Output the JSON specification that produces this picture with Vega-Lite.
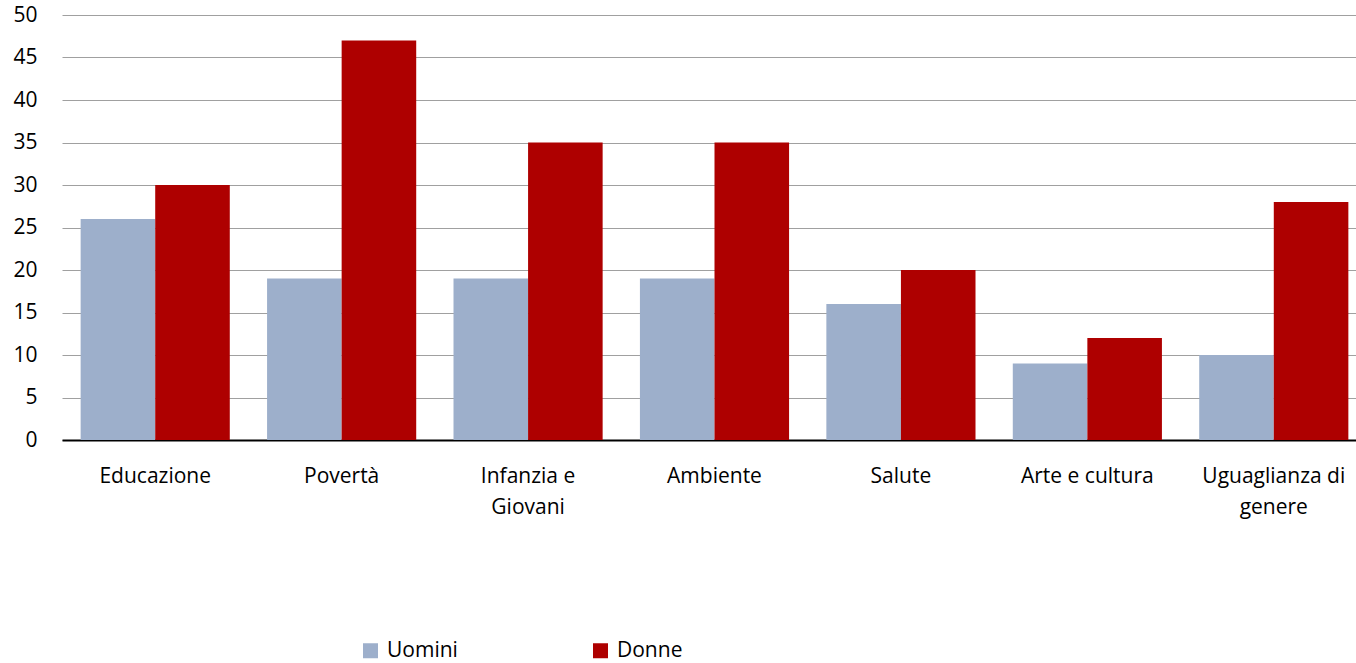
{
  "$schema": "https://vega.github.io/schema/vega-lite/v6.json",
  "width": 1305,
  "height": 425,
  "autosize": "none",
  "padding": {"left": 62, "top": 15, "right": 0, "bottom": 223},
  "background": "white",
  "config": {
    "font": "Open Sans",
    "view": {"stroke": null},
    "axis": {"labelFont": "Open Sans", "labelFontSize": 21, "labelColor": "#000000"}
  },
  "data": {
    "values": [
      {"cat": "Educazione", "sesso": "Uomini", "v": 26},
      {"cat": "Educazione", "sesso": "Donne", "v": 30},
      {"cat": "Povertà", "sesso": "Uomini", "v": 19},
      {"cat": "Povertà", "sesso": "Donne", "v": 47},
      {"cat": "Infanzia e Giovani", "sesso": "Uomini", "v": 19},
      {"cat": "Infanzia e Giovani", "sesso": "Donne", "v": 35},
      {"cat": "Ambiente", "sesso": "Uomini", "v": 19},
      {"cat": "Ambiente", "sesso": "Donne", "v": 35},
      {"cat": "Salute", "sesso": "Uomini", "v": 16},
      {"cat": "Salute", "sesso": "Donne", "v": 20},
      {"cat": "Arte e cultura", "sesso": "Uomini", "v": 9},
      {"cat": "Arte e cultura", "sesso": "Donne", "v": 12},
      {"cat": "Uguaglianza di genere", "sesso": "Uomini", "v": 10},
      {"cat": "Uguaglianza di genere", "sesso": "Donne", "v": 28}
    ]
  },
  "mark": {"type": "bar"},
  "encoding": {
    "x": {
      "field": "cat",
      "type": "nominal",
      "sort": null,
      "title": null,
      "scale": {"paddingInner": 0.2, "paddingOuter": 0.1},
      "axis": {
        "labelAngle": 0,
        "ticks": false,
        "domainColor": "#000000",
        "domainWidth": 2,
        "labelPadding": 25,
        "labelLineHeight": 31,
        "labelLimit": 400,
        "labelExpr": "datum.label == 'Infanzia e Giovani' ? ['Infanzia e', 'Giovani'] : datum.label == 'Uguaglianza di genere' ? ['Uguaglianza di', 'genere'] : datum.label"
      }
    },
    "xOffset": {"field": "sesso", "type": "nominal", "sort": ["Uomini", "Donne"], "scale": {"paddingInner": 0, "paddingOuter": 0}},
    "y": {
      "field": "v",
      "type": "quantitative",
      "title": null,
      "scale": {"domain": [0, 50], "nice": false},
      "axis": {
        "values": [0, 5, 10, 15, 20, 25, 30, 35, 40, 45, 50],
        "ticks": false,
        "domain": false,
        "gridColor": "#A0A0A0",
        "gridWidth": 1,
        "labelPadding": 25
      }
    },
    "color": {
      "field": "sesso",
      "type": "nominal",
      "sort": ["Uomini", "Donne"],
      "scale": {"domain": ["Uomini", "Donne"], "range": ["#9DAFCB", "#AE0000"]},
      "legend": {
        "title": null,
        "orient": "none",
        "direction": "horizontal",
        "legendX": 298,
        "legendY": 625,
        "symbolType": "square",
        "symbolSize": 225,
        "symbolStrokeWidth": 0,
        "symbolOpacity": 1,
        "labelFontSize": 21,
        "labelFont": "Open Sans",
        "labelColor": "#000000",
        "labelOffset": 6,
        "columnPadding": 132
      }
    }
  }
}
